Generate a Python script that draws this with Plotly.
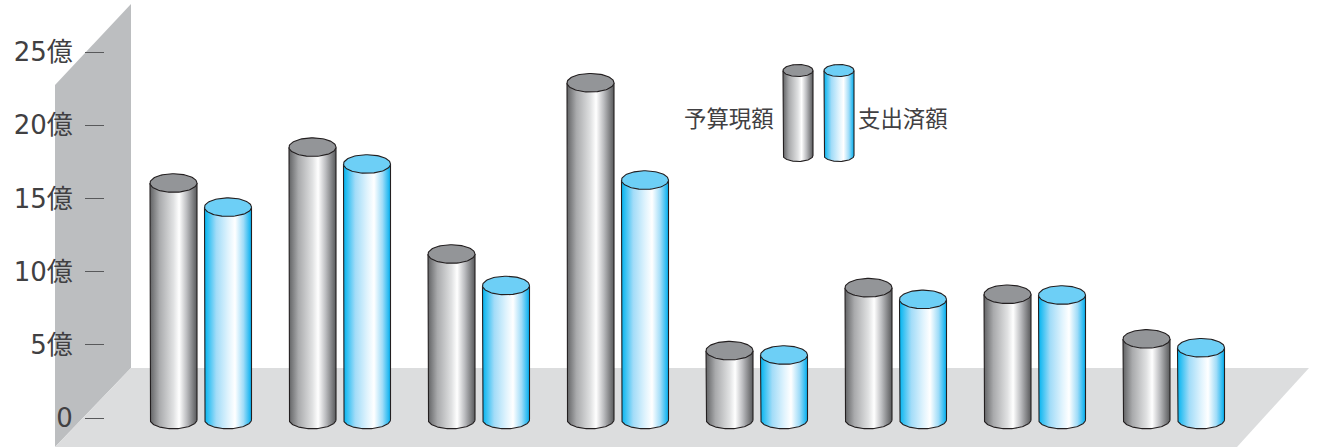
import numpy as np
import plotly.graph_objects as go

# --- data ---
budget = [16.05, 18.5, 11.2, 22.9, 4.6, 8.9, 8.45, 5.4]
spent = [14.4, 17.35, 9.05, 16.25, 4.3, 8.1, 8.4, 4.8]
tick_vals = [0, 5, 10, 15, 20, 25]
tick_text = ["0", "5億", "10億", "15億", "20億", "25億"]
legend_names = ["予算現額", "支出済額"]

# --- styling ---
W, H = 1319, 447
Y0, PX = 418.0, 14.64  # pixel row of zero, pixels per unit
FONT = "Noto Sans CJK JP"
TICK_FONT = "DejaVu Sans, Noto Sans CJK JP"
INK = "#231f20"
GRAY_TOP = "#939598"
BLUE_TOP = "#6dcff6"
GRAY_GRAD = [[0, "#626365"], [0.2, "#a9aaac"], [0.5, "#e0e1e2"], [0.62, "#ffffff"],
             [0.78, "#bcbdc0"], [1, "#58595b"]]
BLUE_GRAD = [[0, "#00b4f0"], [0.25, "#a2dcf8"], [0.5, "#dff3fd"], [0.65, "#ffffff"],
             [0.83, "#9fdcf8"], [1, "#00aeef"]]


def v(py):
    return (Y0 - py) / PX


fig = go.Figure()


def cylinder(cx, top, base, rx, ry, grad, top_color):
    t = np.linspace(0, np.pi, 60)
    xs = np.concatenate([[cx - rx], cx - rx * np.cos(t), [cx + rx]])
    ys = np.concatenate([[top], base - ry * np.sin(t), [top]])
    fig.add_trace(go.Scatter(
        x=xs, y=ys, mode="lines", fill="toself",
        fillgradient=dict(type="horizontal", colorscale=grad, start=cx - rx, stop=cx + rx),
        line=dict(color=INK, width=1.1), hoverinfo="skip", showlegend=False))
    t = np.linspace(0, 2 * np.pi, 90)
    fig.add_trace(go.Scatter(
        x=cx + rx * np.cos(t), y=top + ry * np.sin(t), mode="lines", fill="toself",
        fillcolor=top_color, line=dict(color=INK, width=1.1),
        hoverinfo="skip", showlegend=False))


GROUP0, STEP, GAP = 173.5, 139.0, 54.5
RX, RY = 23.5, 9.3 / PX
base = v(419.5)
for i, (a, b) in enumerate(zip(budget, spent)):
    cylinder(GROUP0 + STEP * i, a, base, RX, RY, GRAY_GRAD, GRAY_TOP)
    cylinder(GROUP0 + STEP * i + GAP, b, base, RX, RY, BLUE_GRAD, BLUE_TOP)

# legend cylinders
cylinder(798, v(70.5), v(155.5), 15, 6 / PX, GRAY_GRAD, GRAY_TOP)
cylinder(839, v(70.5), v(155.5), 15, 6 / PX, BLUE_GRAD, BLUE_TOP)

shapes = [
    dict(type="path", layer="below", line_width=0, fillcolor="#bcbec0", xref="x", yref="y",
         path=f"M55,{v(85)} L131,{v(4)} L131,{v(368)} L55,{v(447)} Z"),
    dict(type="path", layer="below", line_width=0, fillcolor="#dcddde", xref="x", yref="y",
         path=f"M131,{v(368)} L1309,{v(368)} L1237,{v(447)} L55,{v(447)} Z"),
]

annotations = [
    dict(x=729, y=v(117), text=legend_names[0], showarrow=False, xanchor="center",
         font=dict(family=FONT, size=22.4, color="#414042")),
    dict(x=902.5, y=v(117), text=legend_names[1], showarrow=False, xanchor="center",
         font=dict(family=FONT, size=22.4, color="#414042")),
]

fig.update_layout(
    width=W, height=H, margin=dict(l=0, r=0, t=0, b=0),
    paper_bgcolor="white", plot_bgcolor="white", showlegend=False,
    shapes=shapes, annotations=annotations,
    xaxis=dict(range=[0, W], visible=False, fixedrange=True),
    yaxis=dict(range=[v(H), v(0)], anchor="free", position=104 / W, side="left",
               tickvals=tick_vals, ticktext=tick_text, ticks="outside", ticklen=19,
               tickwidth=1.3, tickcolor="#58595b", showgrid=False, zeroline=False,
               showline=False, ticklabelstandoff=7, fixedrange=True,
               tickfont=dict(family=TICK_FONT, size=26, color="#414042")),
)

fig.write_html("out.html", config=dict(displayModeBar=False),
               post_script="document.body.style.margin='0';document.body.style.overflow='hidden';")
